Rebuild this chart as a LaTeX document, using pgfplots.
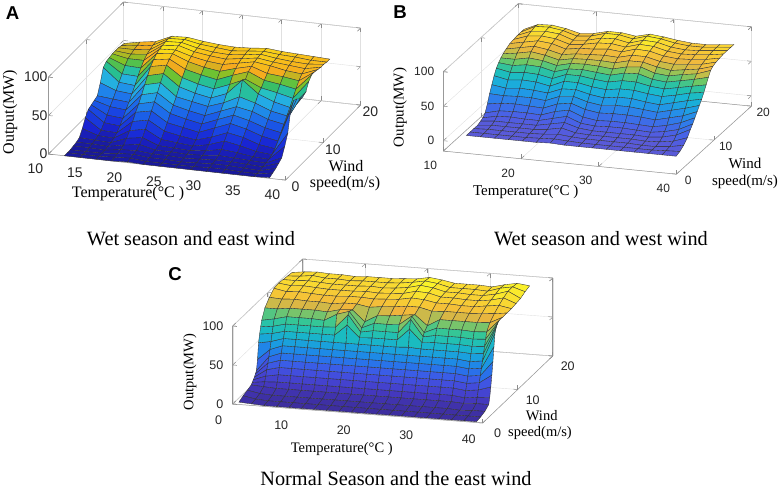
\documentclass[border=0pt]{standalone}
\usepackage{pgfplots}
\pgfplotsset{compat=1.18}
\usepackage{fontspec}
\setmainfont{Liberation Serif}
\newfontfamily\sansf{Liberation Sans}
\pgfplotsset{
  colormap={cmA}{rgb255=(25,25,155) rgb255=(25,30,183) rgb255=(25,35,210) rgb255=(25,55,220) rgb255=(25,72,228) rgb255=(27,95,232) rgb255=(30,118,235) rgb255=(32,145,233) rgb255=(35,170,230) rgb255=(38,192,210) rgb255=(40,190,120) rgb255=(120,195,40) rgb255=(245,170,30) rgb255=(247,190,27) rgb255=(249,225,22) rgb255=(250,245,20)},
  colormap={cmB}{rgb255=(90,90,215) rgb255=(81,93,224) rgb255=(71,99,231) rgb255=(58,112,233) rgb255=(47,125,234) rgb255=(38,142,232) rgb255=(30,157,229) rgb255=(27,171,220) rgb255=(25,185,210) rgb255=(31,191,180) rgb255=(54,196,150) rgb255=(110,200,100) rgb255=(190,191,74) rgb255=(238,182,62) rgb255=(249,205,53) rgb255=(250,245,40)},
  colormap={cmC}{rgb255=(60,45,155) rgb255=(65,52,176) rgb255=(69,59,197) rgb255=(68,69,210) rgb255=(66,79,223) rgb255=(58,93,231) rgb255=(42,112,234) rgb255=(32,132,232) rgb255=(26,154,226) rgb255=(25,171,213) rgb255=(25,186,195) rgb255=(38,194,172) rgb255=(55,199,147) rgb255=(125,196,104) rgb255=(240,180,60) rgb255=(249,211,51) rgb255=(250,248,40)},
  mybox/.style={
    scale mode=none, clip=false, anchor=origin,
    grid=major, major grid style={black!12, line width=0.4pt},
    axis line style={black!40, line width=0.5pt},
    tick style={black!45, line width=0.5pt},
    /pgf/number format/assume math mode=true,
    z buffer=sort,
  },
  mysurf/.style={surf, shader=faceted, faceted color=black!80, line width=0.35pt,
    mesh/ordering=y varies, mesh/rows=21},
}
\newcommand\tickA{\sansf\fontsize{14}{14}\selectfont}
\newcommand\tickB{\sansf\fontsize{12}{12}\selectfont}
\newcommand\tickC{\sansf\fontsize{12.5}{12.5}\selectfont}
\begin{document}
\begin{tikzpicture}
\useasboundingbox (0pt,0pt) rectangle (782pt,-496pt);
%%%%%%%%%%%%%%%% A
\begin{axis}[mybox, at={(48.5pt,-154pt)},
  x={(7.9pt,-0.87pt)}, y={(3.75pt,3.75pt)}, z={(0pt,0.77pt)},
  xmin=10, xmax=40, ymin=0, ymax=20, zmin=0, zmax=100,
  xtick={10,15,20,25,30,35,40}, ytick={0,10,20}, ztick={0,50,100},
  ticklabel style={font=\tickA, text=black!85},
  xticklabel style={anchor=center, xshift=-13pt, yshift=-14.5pt},
  yticklabel style={anchor=center, xshift=10pt, yshift=-7pt},
  zticklabel style={anchor=east, xshift=2.5pt},
  colormap name=cmA, point meta min=0, point meta max=90]
\addplot3[mysurf] coordinates {
(12,0,0) (12,0.8,0) (12,1.6,0) (12,2.4,1) (12,3.2,2) (12,4,4) (12,4.8,12) (12,5.6,22) (12,6.4,29) (12,7.2,31) (12,8,33) (12,8.8,35) (12,9.6,48) (12,10.4,64) (12,11.2,68) (12,12,69) (12,12.8,70) (12,13.6,70) (12,14.4,70) (12,15.2,69) (12,16,68)
(14,0,0) (14,0.8,0) (14,1.6,0) (14,2.4,1) (14,3.2,2) (14,4,3) (14,4.8,5) (14,5.6,8) (14,6.4,14) (14,7.2,20) (14,8,27) (14,8.8,33) (14,9.6,40) (14,10.4,47) (14,11.2,54) (14,12,61) (14,12.8,66) (14,13.6,68) (14,14.4,70) (14,15.2,71) (14,16,72)
(16,0,0) (16,0.8,0) (16,1.6,0) (16,2.4,0) (16,3.2,1) (16,4,2) (16,4.8,4) (16,5.6,7) (16,6.4,12) (16,7.2,18) (16,8,25) (16,8.8,31) (16,9.6,38) (16,10.4,45) (16,11.2,53) (16,12,60) (16,12.8,66) (16,13.6,70) (16,14.4,72) (16,15.2,74) (16,16,75)
(18,0,0) (18,0.8,1) (18,1.6,2) (18,2.4,3) (18,3.2,5) (18,4,10) (18,4.8,16) (18,5.6,24) (18,6.4,32) (18,7.2,39) (18,8,47) (18,8.8,56) (18,9.6,64) (18,10.4,72) (18,11.2,77) (18,12,81) (18,12.8,83) (18,13.6,84) (18,14.4,85) (18,15.2,85) (18,16,84)
(20,0,1) (20,0.8,2) (20,1.6,3) (20,2.4,4) (20,3.2,8) (20,4,13) (20,4.8,20) (20,5.6,28) (20,6.4,36) (20,7.2,44) (20,8,52) (20,8.8,61) (20,9.6,69) (20,10.4,76) (20,11.2,80) (20,12,83) (20,12.8,84) (20,13.6,86) (20,14.4,86) (20,15.2,86) (20,16,85)
(22,0,0) (22,0.8,0) (22,1.6,1) (22,2.4,2) (22,3.2,3) (22,4,5) (22,4.8,9) (22,5.6,16) (22,6.4,23) (22,7.2,31) (22,8,38) (22,8.8,45) (22,9.6,54) (22,10.4,62) (22,11.2,69) (22,12,75) (22,12.8,78) (22,13.6,80) (22,14.4,81) (22,15.2,82) (22,16,82)
(24,0,0) (24,0.8,0) (24,1.6,1) (24,2.4,2) (24,3.2,3) (24,4,4) (24,4.8,7) (24,5.6,12) (24,6.4,19) (24,7.2,26) (24,8,33) (24,8.8,41) (24,9.6,48) (24,10.4,56) (24,11.2,64) (24,12,70) (24,12.8,74) (24,13.6,77) (24,14.4,78) (24,15.2,80) (24,16,80)
(26,0,0) (26,0.8,0) (26,1.6,0) (26,2.4,1) (26,3.2,2) (26,4,3) (26,4.8,5) (26,5.6,9) (26,6.4,15) (26,7.2,22) (26,8,29) (26,8.8,37) (26,9.6,44) (26,10.4,52) (26,11.2,60) (26,12,67) (26,12.8,72) (26,13.6,75) (26,14.4,77) (26,15.2,78) (26,16,79)
(28,0,0) (28,0.8,0) (28,1.6,1) (28,2.4,2) (28,3.2,3) (28,4,5) (28,4.8,9) (28,5.6,15) (28,6.4,23) (28,7.2,30) (28,8,37) (28,8.8,44) (28,9.6,52) (28,10.4,60) (28,11.2,68) (28,12,73) (28,12.8,76) (28,13.6,78) (28,14.4,79) (28,15.2,80) (28,16,80)
(30,0,0) (30,0.8,1) (30,1.6,2) (30,2.4,3) (30,3.2,5) (30,4,9) (30,4.8,16) (30,5.6,23) (30,6.4,31) (30,7.2,38) (30,8,45) (30,8.8,54) (30,9.6,72) (30,10.4,69) (30,11.2,75) (30,12,78) (30,12.8,80) (30,13.6,81) (30,14.4,82) (30,15.2,82) (30,16,82)
(32,0,0) (32,0.8,1) (32,1.6,2) (32,2.4,3) (32,3.2,4) (32,4,7) (32,4.8,12) (32,5.6,19) (32,6.4,26) (32,7.2,33) (32,8,41) (32,8.8,48) (32,9.6,56) (32,10.4,60) (32,11.2,66) (32,12,71) (32,12.8,77) (32,13.6,78) (32,14.4,79) (32,15.2,80) (32,16,80)
(34,0,0) (34,0.8,0) (34,1.6,1) (34,2.4,2) (34,3.2,3) (34,4,4) (34,4.8,7) (34,5.6,12) (34,6.4,19) (34,7.2,26) (34,8,33) (34,8.8,40) (34,9.6,48) (34,10.4,56) (34,11.2,63) (34,12,69) (34,12.8,73) (34,13.6,76) (34,14.4,77) (34,15.2,79) (34,16,79)
(36,0,0) (36,0.8,0) (36,1.6,0) (36,2.4,1) (36,3.2,2) (36,4,3) (36,4.8,5) (36,5.6,9) (36,6.4,15) (36,7.2,22) (36,8,29) (36,8.8,36) (36,9.6,43) (36,10.4,51) (36,11.2,59) (36,12,66) (36,12.8,71) (36,13.6,74) (36,14.4,76) (36,15.2,77) (36,16,78)
(38,0,1) (38,0.8,3) (38,1.6,5) (38,2.4,8) (38,3.2,11) (38,4,22) (38,4.8,35) (38,5.6,61) (38,6.4,70) (38,7.2,68) (38,8,64) (38,8.8,63) (38,9.6,65) (38,10.4,75) (38,11.2,80) (38,12,80) (38,12.8,79) (38,13.6,78) (38,14.4,78) (38,15.2,77) (38,16,77)
};
\end{axis}
%%%%%%%%%%%%%%%% B
\begin{axis}[mybox, at={(443.3pt,-140.7pt)},
  x={(7.77pt,-0.77pt)}, y={(3.75pt,3.4pt)}, z={(0pt,0.69pt)},
  xmin=10, xmax=40, ymin=0, ymax=20, zmin=-15, zmax=100,
  xtick={10,20,30,40}, ytick={0,10,20}, ztick={0,50,100},
  ticklabel style={font=\tickB, text=black!85},
  xticklabel style={anchor=center, xshift=-13pt, yshift=-14.3pt},
  yticklabel style={anchor=center, xshift=11.8pt, yshift=-6.5pt},
  zticklabel style={anchor=east, xshift=-5.5pt},
  colormap name=cmB, point meta min=0, point meta max=90]
\addplot3[mysurf] coordinates {
(12,2,0) (12,3,0) (12,4,0) (12,5,0) (12,5.8,2) (12,6.4,4) (12,7,8) (12,7.6,18) (12,8.2,30) (12,8.8,40) (12,9.4,50) (12,10,58) (12,10.6,63) (12,11.2,67) (12,11.8,70) (12,12.6,73) (12,13.6,76) (12,14.6,77) (12,15.6,78) (12,16.6,78) (12,17.4,78)
(13.8,2,0) (13.8,3,0) (13.8,4,1) (13.8,5,2) (13.8,5.8,4) (13.8,6.4,8) (13.8,7,13) (13.8,7.6,21) (13.8,8.2,29) (13.8,8.8,37) (13.8,9.4,46) (13.8,10,54) (13.8,10.6,61) (13.8,11.2,67) (13.8,11.8,73) (13.8,12.6,77) (13.8,13.6,80) (13.8,14.6,84) (13.8,15.6,86) (13.8,16.6,88) (13.8,17.4,87)
(15.6,2,0) (15.6,3,0) (15.6,4,1) (15.6,5,2) (15.6,5.8,4) (15.6,6.4,9) (15.6,7,14) (15.6,7.6,22) (15.6,8.2,30) (15.6,8.8,39) (15.6,9.4,48) (15.6,10,56) (15.6,10.6,64) (15.6,11.2,71) (15.6,11.8,77) (15.6,12.6,81) (15.6,13.6,84) (15.6,14.6,86) (15.6,15.6,88) (15.6,16.6,89) (15.6,17.4,88)
(17.4,2,0) (17.4,3,0) (17.4,4,1) (17.4,5,2) (17.4,5.8,4) (17.4,6.4,8) (17.4,7,14) (17.4,7.6,21) (17.4,8.2,30) (17.4,8.8,38) (17.4,9.4,47) (17.4,10,55) (17.4,10.6,63) (17.4,11.2,69) (17.4,11.8,74) (17.4,12.6,78) (17.4,13.6,82) (17.4,14.6,84) (17.4,15.6,86) (17.4,16.6,86) (17.4,17.4,85)
(19.2,2,0) (19.2,3,0) (19.2,4,1) (19.2,5,2) (19.2,5.8,4) (19.2,6.4,8) (19.2,7,13) (19.2,7.6,20) (19.2,8.2,28) (19.2,8.8,36) (19.2,9.4,43) (19.2,10,51) (19.2,10.6,58) (19.2,11.2,64) (19.2,11.8,69) (19.2,12.6,73) (19.2,13.6,76) (19.2,14.6,78) (19.2,15.6,79) (19.2,16.6,80) (19.2,17.4,80)
(21,2,0) (21,3,1) (21,4,2) (21,5,4) (21,5.8,8) (21,6.4,13) (21,7,20) (21,7.6,28) (21,8.2,36) (21,8.8,44) (21,9.4,52) (21,10,59) (21,10.6,64) (21,11.2,69) (21,11.8,73) (21,12.6,76) (21,13.6,79) (21,14.6,80) (21,15.6,81) (21,16.6,82) (21,17.4,82)
(22.8,2,1) (22.8,3,2) (22.8,4,4) (22.8,5,8) (22.8,5.8,12) (22.8,6.4,18) (22.8,7,24) (22.8,7.6,31) (22.8,8.2,38) (22.8,8.8,45) (22.8,9.4,52) (22.8,10,59) (22.8,10.6,65) (22.8,11.2,70) (22.8,11.8,74) (22.8,12.6,77) (22.8,13.6,80) (22.8,14.6,84) (22.8,15.6,86) (22.8,16.6,88) (22.8,17.4,87)
(24.6,2,0) (24.6,3,1) (24.6,4,2) (24.6,5,3) (24.6,5.8,6) (24.6,6.4,10) (24.6,7,16) (24.6,7.6,24) (24.6,8.2,32) (24.6,8.8,40) (24.6,9.4,48) (24.6,10,56) (24.6,10.6,63) (24.6,11.2,69) (24.6,11.8,74) (24.6,12.6,78) (24.6,13.6,82) (24.6,14.6,85) (24.6,15.6,87) (24.6,16.6,88) (24.6,17.4,87)
(26.4,2,0) (26.4,3,0) (26.4,4,1) (26.4,5,2) (26.4,5.8,4) (26.4,6.4,8) (26.4,7,13) (26.4,7.6,21) (26.4,8.2,29) (26.4,8.8,37) (26.4,9.4,46) (26.4,10,54) (26.4,10.6,61) (26.4,11.2,67) (26.4,11.8,73) (26.4,12.6,77) (26.4,13.6,80) (26.4,14.6,82) (26.4,15.6,83) (26.4,16.6,84) (26.4,17.4,84)
(28.2,2,0) (28.2,3,0) (28.2,4,1) (28.2,5,2) (28.2,5.8,4) (28.2,6.4,9) (28.2,7,14) (28.2,7.6,22) (28.2,8.2,31) (28.2,8.8,40) (28.2,9.4,49) (28.2,10,58) (28.2,10.6,66) (28.2,11.2,72) (28.2,11.8,78) (28.2,12.6,82) (28.2,13.6,86) (28.2,14.6,88) (28.2,15.6,89) (28.2,16.6,90) (28.2,17.4,89)
(30,2,0) (30,3,0) (30,4,1) (30,5,2) (30,5.8,4) (30,6.4,9) (30,7,14) (30,7.6,22) (30,8.2,31) (30,8.8,40) (30,9.4,49) (30,10,58) (30,10.6,67) (30,11.2,74) (30,11.8,78) (30,12.6,82) (30,13.6,85) (30,14.6,87) (30,15.6,88) (30,16.6,88) (30,17.4,87)
(31.8,2,0) (31.8,3,0) (31.8,4,1) (31.8,5,2) (31.8,5.8,4) (31.8,6.4,8) (31.8,7,13) (31.8,7.6,21) (31.8,8.2,29) (31.8,8.8,37) (31.8,9.4,46) (31.8,10,54) (31.8,10.6,61) (31.8,11.2,67) (31.8,11.8,73) (31.8,12.6,77) (31.8,13.6,80) (31.8,14.6,82) (31.8,15.6,83) (31.8,16.6,84) (31.8,17.4,84)
(33.6,2,0) (33.6,3,0) (33.6,4,0) (33.6,5,1) (33.6,5.8,3) (33.6,6.4,7) (33.6,7,12) (33.6,7.6,19) (33.6,8.2,27) (33.6,8.8,35) (33.6,9.4,44) (33.6,10,52) (33.6,10.6,59) (33.6,11.2,65) (33.6,11.8,70) (33.6,12.6,75) (33.6,13.6,78) (33.6,14.6,80) (33.6,15.6,81) (33.6,16.6,82) (33.6,17.4,82)
(35.4,2,0) (35.4,3,0) (35.4,4,0) (35.4,5,2) (35.4,5.8,5) (35.4,6.4,10) (35.4,7,16) (35.4,7.6,24) (35.4,8.2,32) (35.4,8.8,40) (35.4,9.4,48) (35.4,10,56) (35.4,10.6,63) (35.4,11.2,69) (35.4,11.8,73) (35.4,12.6,77) (35.4,13.6,79) (35.4,14.6,81) (35.4,15.6,82) (35.4,16.6,82) (35.4,17.4,82)
(37.2,2,0) (37.2,3,1) (37.2,4,2) (37.2,5,5) (37.2,5.8,10) (37.2,6.4,15) (37.2,7,22) (37.2,7.6,29) (37.2,8.2,37) (37.2,8.8,45) (37.2,9.4,53) (37.2,10,60) (37.2,10.6,67) (37.2,11.2,72) (37.2,11.8,76) (37.2,12.6,79) (37.2,13.6,81) (37.2,14.6,83) (37.2,15.6,84) (37.2,16.6,84) (37.2,17.4,84)
(39,2,0) (39,3,2) (39,4,6) (39,5,12) (39,5.8,20) (39,6.4,25) (39,7,31) (39,7.6,37) (39,8.2,43) (39,8.8,49) (39,9.4,56) (39,10,64) (39,10.6,72) (39,11.2,79) (39,11.8,82) (39,12.6,84) (39,13.6,85) (39,14.6,86) (39,15.6,86) (39,16.6,86) (39,17.4,86)
};
\end{axis}
%%%%%%%%%%%%%%%% C
\begin{axis}[mybox, at={(232.7pt,-404pt)},
  x={(6.25pt,-0.475pt)}, y={(3.5pt,3.35pt)}, z={(0pt,0.78pt)},
  xmin=0, xmax=40, ymin=0, ymax=20, zmin=0, zmax=100,
  xtick={0,10,20,30,40}, ytick={0,10,20}, ztick={0,50,100},
  ticklabel style={font=\tickC, text=black!85},
  xticklabel style={anchor=center, xshift=-14pt, yshift=-16.5pt},
  yticklabel style={anchor=center, xshift=15pt, yshift=-10.5pt},
  zticklabel style={anchor=east, xshift=-5.8pt},
  colormap name=cmC, point meta min=0, point meta max=112]
\addplot3[mysurf] coordinates {
(1,0,3) (1,1.2,6) (1,2.4,8) (1,3.5,10) (1,3.8,12) (1,4.1,14) (1,4.4,16) (1,4.7,19) (1,5,22) (1,5.3,35) (1,5.6,55) (1,5.9,65) (1,6.2,73) (1,6.5,80) (1,7.4,92) (1,8.7,100) (1,10,106) (1,11.3,107) (1,12.6,106) (1,13.9,105) (1,15.2,104)
(3,0,2) (3,1.2,3) (3,2.4,5) (3,3.5,9) (3,3.8,14) (3,4.1,20) (3,4.4,27) (3,4.7,34) (3,5,41) (3,5.3,49) (3,5.6,58) (3,5.9,67) (3,6.2,75) (3,6.5,83) (3,7.4,92) (3,8.7,99) (3,10,103) (3,11.3,105) (3,12.6,106) (3,13.9,106) (3,15.2,106)
(5,0,1) (5,1.2,2) (5,2.4,4) (5,3.5,8) (5,3.8,15) (5,4.1,23) (5,4.4,31) (5,4.7,39) (5,5,47) (5,5.3,55) (5,5.6,63) (5,5.9,71) (5,6.2,79) (5,6.5,87) (5,7.4,94) (5,8.7,100) (5,10,104) (5,11.3,106) (5,12.6,107) (5,13.9,108) (5,15.2,107)
(7,0,1) (7,1.2,2) (7,2.4,4) (7,3.5,8) (7,3.8,15) (7,4.1,23) (7,4.4,31) (7,4.7,39) (7,5,47) (7,5.3,55) (7,5.6,63) (7,5.9,71) (7,6.2,79) (7,6.5,87) (7,7.4,94) (7,8.7,99) (7,10,103) (7,11.3,105) (7,12.6,106) (7,13.9,106) (7,15.2,106)
(9,0,1) (9,1.2,2) (9,2.4,4) (9,3.5,8) (9,3.8,15) (9,4.1,23) (9,4.4,31) (9,4.7,39) (9,5,47) (9,5.3,55) (9,5.6,63) (9,5.9,71) (9,6.2,79) (9,6.5,87) (9,7.4,94) (9,8.7,99) (9,10,102) (9,11.3,104) (9,12.6,105) (9,13.9,106) (9,15.2,106)
(11,0,1) (11,1.2,2) (11,2.4,4) (11,3.5,8) (11,3.8,15) (11,4.1,23) (11,4.4,31) (11,4.7,39) (11,5,47) (11,5.3,55) (11,5.6,63) (11,5.9,71) (11,6.2,79) (11,6.5,86) (11,7.4,93) (11,8.7,98) (11,10,102) (11,11.3,104) (11,12.6,105) (11,13.9,105) (11,15.2,105)
(13,0,1) (13,1.2,2) (13,2.4,4) (13,3.5,8) (13,3.8,15) (13,4.1,23) (13,4.4,31) (13,4.7,39) (13,5,47) (13,5.3,55) (13,5.6,63) (13,5.9,71) (13,6.2,80) (13,6.5,95) (13,7.4,97) (13,8.7,100) (13,10,103) (13,11.3,104) (13,12.6,105) (13,13.9,106) (13,15.2,106)
(15,0,1) (15,1.2,2) (15,2.4,4) (15,3.5,8) (15,3.8,15) (15,4.1,23) (15,4.4,31) (15,4.7,39) (15,5,47) (15,5.3,55) (15,5.6,63) (15,5.9,85) (15,6.2,97) (15,6.5,100) (15,7.4,98) (15,8.7,100) (15,10,103) (15,11.3,105) (15,12.6,106) (15,13.9,106) (15,15.2,106)
(17,0,1) (17,1.2,2) (17,2.4,4) (17,3.5,8) (17,3.8,15) (17,4.1,23) (17,4.4,31) (17,4.7,39) (17,5,47) (17,5.3,55) (17,5.6,63) (17,5.9,70) (17,6.2,76) (17,6.5,80) (17,7.4,84) (17,8.7,97) (17,10,102) (17,11.3,104) (17,12.6,105) (17,13.9,106) (17,15.2,106)
(19,0,1) (19,1.2,2) (19,2.4,4) (19,3.5,8) (19,3.8,15) (19,4.1,23) (19,4.4,31) (19,4.7,39) (19,5,47) (19,5.3,55) (19,5.6,63) (19,5.9,71) (19,6.2,79) (19,6.5,87) (19,7.4,93) (19,8.7,99) (19,10,103) (19,11.3,105) (19,12.6,106) (19,13.9,107) (19,15.2,107)
(21,0,1) (21,1.2,2) (21,2.4,4) (21,3.5,8) (21,3.8,15) (21,4.1,23) (21,4.4,31) (21,4.7,39) (21,5,47) (21,5.3,55) (21,5.6,63) (21,5.9,71) (21,6.2,79) (21,6.5,87) (21,7.4,94) (21,8.7,100) (21,10,104) (21,11.3,106) (21,12.6,108) (21,13.9,109) (21,15.2,108)
(23,0,1) (23,1.2,2) (23,2.4,4) (23,3.5,8) (23,3.8,15) (23,4.1,23) (23,4.4,31) (23,4.7,39) (23,5,47) (23,5.3,55) (23,5.6,63) (23,5.9,71) (23,6.2,79) (23,6.5,88) (23,7.4,96) (23,8.7,102) (23,10,107) (23,11.3,110) (23,12.6,112) (23,13.9,112) (23,15.2,111)
(25,0,1) (25,1.2,2) (25,2.4,4) (25,3.5,8) (25,3.8,15) (25,4.1,23) (25,4.4,31) (25,4.7,39) (25,5,47) (25,5.3,55) (25,5.6,64) (25,5.9,86) (25,6.2,97) (25,6.5,100) (25,7.4,98) (25,8.7,102) (25,10,106) (25,11.3,109) (25,12.6,110) (25,13.9,110) (25,15.2,109)
(27,0,1) (27,1.2,2) (27,2.4,4) (27,3.5,8) (27,3.8,15) (27,4.1,23) (27,4.4,31) (27,4.7,39) (27,5,47) (27,5.3,55) (27,5.6,63) (27,5.9,70) (27,6.2,76) (27,6.5,80) (27,7.4,85) (27,8.7,98) (27,10,103) (27,11.3,105) (27,12.6,106) (27,13.9,106) (27,15.2,106)
(29,0,1) (29,1.2,2) (29,2.4,4) (29,3.5,8) (29,3.8,15) (29,4.1,23) (29,4.4,31) (29,4.7,39) (29,5,47) (29,5.3,55) (29,5.6,63) (29,5.9,71) (29,6.2,79) (29,6.5,87) (29,7.4,94) (29,8.7,99) (29,10,103) (29,11.3,105) (29,12.6,106) (29,13.9,106) (29,15.2,106)
(31,0,1) (31,1.2,2) (31,2.4,4) (31,3.5,8) (31,3.8,15) (31,4.1,23) (31,4.4,31) (31,4.7,39) (31,5,47) (31,5.3,55) (31,5.6,63) (31,5.9,71) (31,6.2,79) (31,6.5,87) (31,7.4,94) (31,8.7,99) (31,10,102) (31,11.3,104) (31,12.6,105) (31,13.9,106) (31,15.2,106)
(33,0,1) (33,1.2,2) (33,2.4,4) (33,3.5,8) (33,3.8,15) (33,4.1,23) (33,4.4,31) (33,4.7,39) (33,5,47) (33,5.3,55) (33,5.6,63) (33,5.9,71) (33,6.2,79) (33,6.5,87) (33,7.4,94) (33,8.7,99) (33,10,102) (33,11.3,104) (33,12.6,105) (33,13.9,105) (33,15.2,105)
(35,0,1) (35,1.2,2) (35,2.4,3) (35,3.5,7) (35,3.8,13) (35,4.1,21) (35,4.4,29) (35,4.7,37) (35,5,45) (35,5.3,53) (35,5.6,62) (35,5.9,70) (35,6.2,78) (35,6.5,86) (35,7.4,94) (35,8.7,100) (35,10,104) (35,11.3,106) (35,12.6,108) (35,13.9,110) (35,15.2,109)
(37,0,1) (37,1.2,2) (37,2.4,4) (37,3.5,8) (37,3.8,15) (37,4.1,23) (37,4.4,31) (37,4.7,39) (37,5,47) (37,5.3,55) (37,5.6,63) (37,5.9,71) (37,6.2,79) (37,6.5,87) (37,7.4,95) (37,8.7,101) (37,10,106) (37,11.3,110) (37,12.6,113) (37,13.9,113) (37,15.2,112)
(39,0,1) (39,1.2,2) (39,2.4,4) (39,3.5,8) (39,3.8,16) (39,4.1,28) (39,4.4,42) (39,4.7,58) (39,5,76) (39,5.3,92) (39,5.6,97) (39,5.9,100) (39,6.2,102) (39,6.5,103) (39,7.4,103) (39,8.7,103) (39,10,103) (39,11.3,104) (39,12.6,105) (39,13.9,108) (39,15.2,110)
};
\end{axis}
%%%%%%%%%%%%%%%% texts
\newcommand\lblA{\fontsize{16}{16}\selectfont}
\newcommand\lblB{\fontsize{15}{15}\selectfont}
\newcommand\lblC{\fontsize{14.5}{14.5}\selectfont}
\newcommand\capf{\fontsize{20.3}{20.3}\selectfont}
\newcommand\letf{\sansf\bfseries\fontsize{18.6}{18.6}\selectfont}
\node[font=\letf] at (12.5pt,-13.3pt) {A};
\node[font=\letf] at (400pt,-11.7pt) {B};
\node[font=\letf] at (175pt,-274pt) {C};
\node[font=\lblA, rotate=90] at (10pt,-112pt) {Output(MW)};
\node[font=\lblA] at (128pt,-194pt) {Temperature(°C )};
\node[font=\lblA] at (346pt,-166pt) {Wind};
\node[font=\lblA] at (345pt,-184pt) {speed(m/s)};
\node[font=\lblB, rotate=90] at (400pt,-107.5pt) {Output(MW)};
\node[font=\lblB] at (525.7pt,-191.7pt) {Temperature(°C )};
\node[font=\lblB] at (745pt,-163pt) {Wind};
\node[font=\lblB] at (745pt,-182pt) {speed(m/s)};
\node[font=\lblC, rotate=90] at (190pt,-372pt) {Output(MW)};
\node[font=\lblC] at (341.7pt,-449.3pt) {Temperature(°C )};
\node[font=\lblC] at (541.7pt,-415.7pt) {Wind};
\node[font=\lblC] at (540pt,-433.3pt) {speed(m/s)};
\node[font=\capf] at (191pt,-238.5pt) {Wet season and east wind};
\node[font=\capf] at (601pt,-238.5pt) {Wet season and west wind};
\node[font=\capf] at (396pt,-479pt) {Normal Season and the east wind};
\end{tikzpicture}
\end{document}
